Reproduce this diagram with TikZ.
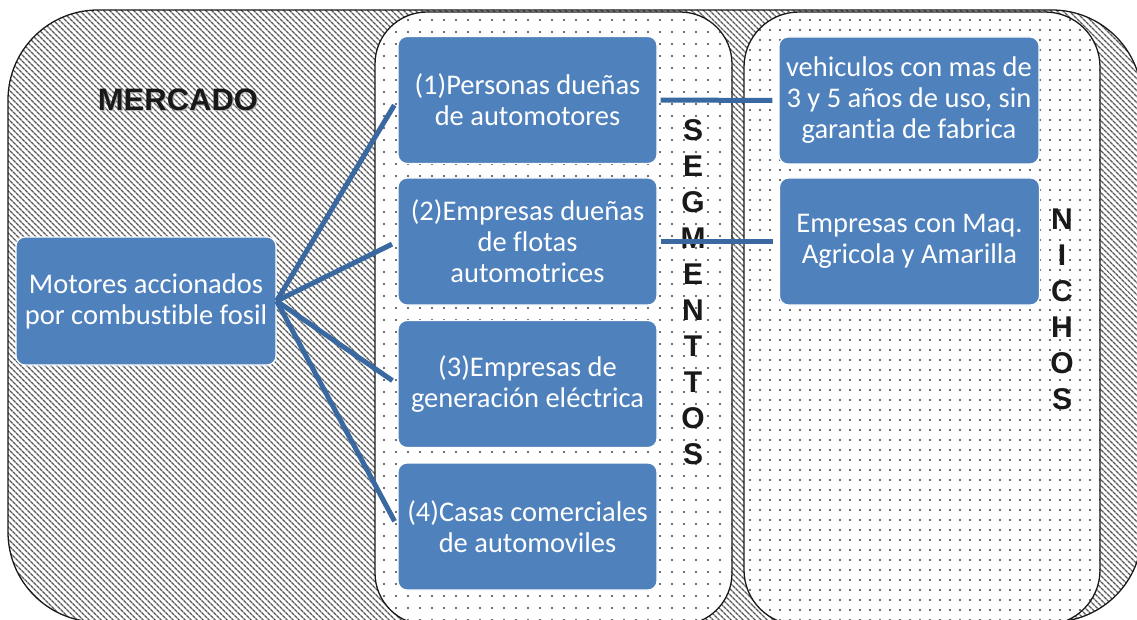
\documentclass[tikz,border=0pt]{standalone}
\usepackage{fontspec}
\setmainfont{Carlito}[Ligatures=NoCommon]
\newfontfamily\arialb{Liberation Sans}
\usetikzlibrary{patterns.meta}
\definecolor{boxblue}{RGB}{79,129,189}
\definecolor{lineblue}{RGB}{58,104,160}
\begin{document}
\begin{tikzpicture}[x=1pt,y=-1pt,
  hatchbox/.style={draw=black!90, line width=1.3pt, inner sep=0pt,
    preaction={fill=white},
    pattern={Lines[angle=-45,distance=4pt,line width=1.6pt]}, pattern color=black!65},
  dotbox/.style={draw=black!90, line width=1.3pt, inner sep=0pt,
    preaction={fill=white},
    pattern={Dots[radius=1.1pt,distance=#1]}, pattern color=black!75},
  bluebox/.style={fill=boxblue, draw=white, line width=1.2pt, rounded corners=9pt,
    minimum width=259pt, minimum height=127pt, inner sep=2pt, align=center,
    text=white, font=\fontsize{28.5}{31}\selectfont},
  vlabel/.style={align=center, inner sep=0pt, text=black!90, font=\arialb\bfseries\fontsize{30}{36}\selectfont},
  conn/.style={draw=lineblue, line width=5pt}]
\clip (0,0) rectangle (1137,620);
% containers
\node[hatchbox, rounded corners=90pt, minimum width=1134pt, minimum height=612pt] (mercado) at (575,316) {};
\node[dotbox=12pt, rounded corners=52pt, minimum width=357pt, minimum height=613pt] (segm) at (553.5,318.5) {};
\node[dotbox=10pt, rounded corners=55pt, minimum width=356pt, minimum height=613pt] (nich) at (922,318.5) {};
% titles
\node[text=black!30, font=\arialb\bfseries\fontsize{31}{31}\selectfont, inner sep=0pt] (mercshadow) at (179,101) {MERCADO};
\node[text=black!90, font=\arialb\bfseries\fontsize{31}{31}\selectfont, inner sep=0pt] (merctitle) at (178,100) {MERCADO};
\node[vlabel] (segtitle) at (693,292.5) {S\\E\\G\\M\\E\\N\\T\\T\\O\\S};
\node[vlabel] (nichtitle) at (1062,309) {N\\I\\C\\H\\O\\S};
% boxes
\node[bluebox, minimum width=260pt, minimum height=128pt] (mot) at (146,301) {Motores accionados\\por combustible fosil};
\node[bluebox] (s1) at (527.5,100) {(1)Personas dueñas\\de automotores};
\node[bluebox] (s2) at (527.5,241.5) {(2)Empresas dueñas\\de flotas\\automotrices};
\node[bluebox] (s3) at (527.5,384) {(3)Empresas de\\generación eléctrica};
\node[bluebox] (s4) at (527.5,526.5) {(4)Casas comerciales\\de automoviles};
\node[bluebox, minimum width=260pt] (n1) at (909,100.5) {vehiculos con mas de\\3 y 5 años de uso, sin\\garantia de fabrica};
\node[bluebox, minimum width=260pt] (n2) at (909.5,241.5) {Empresas con Maq.\\Agricola y Amarilla};
% connectors
\draw[conn, shorten >=6pt] (mot.east) -- (s1.west);
\draw[conn, shorten >=6pt] (mot.east) -- (s2.west);
\draw[conn, shorten >=6pt] (mot.east) -- (s3.west);
\draw[conn, shorten >=6pt] (mot.east) -- (s4.west);
\draw[conn, shorten <=3pt, shorten >=6pt] (s1.east) -- (n1.west);
\draw[conn, shorten <=3pt, shorten >=6pt] (s2.east) -- (n2.west);
\end{tikzpicture}
\end{document}
